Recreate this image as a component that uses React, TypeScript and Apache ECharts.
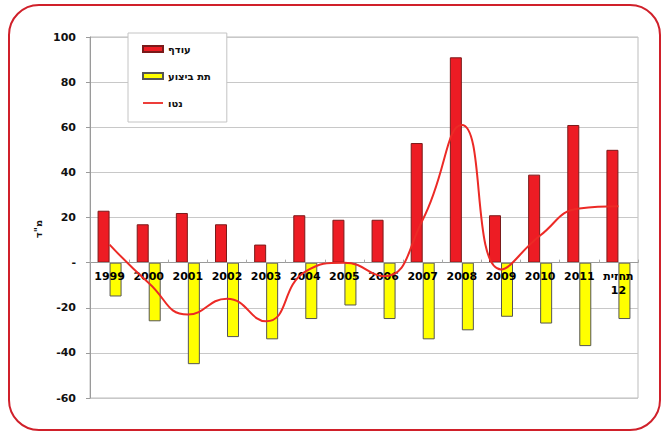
import React, { useEffect, useRef } from "react";
import * as echarts from "echarts";

const categories = ["1999", "2000", "2001", "2002", "2003", "2004", "2005", "2006", "2007", "2008", "2009", "2010", "2011", "תחזית\n12"];
const surplus = [23, 17, 22, 17, 8, 21, 19, 19, 53, 91, 21, 39, 61, 50];
const deficit = [-15, -26, -45, -33, -34, -25, -19, -25, -34, -30, -24, -27, -37, -25];
const net = [8, -9, -23, -16, -26, -4, 0, -6, 19, 61, -3, 12, 24, 25];
const seriesNames = ["עודף", "תת ביצוע", "נטו"];
const yAxisName = "מ\"ד";
const yMin = -60;
const yMax = 100;
const yStep = 20;

export default function App() {
  const ref = useRef<HTMLDivElement>(null);
  useEffect(() => {
    document.body.style.margin = "0";
    const chart = echarts.init(ref.current!, null, { renderer: "svg" });
    const font = "'DejaVu Sans', Arial, sans-serif";
    const gridTop = 37;
    const gridBottom = 34;
    const gridH = 432 - gridTop - gridBottom;
    const zeroOffset = -((0 - yMin) / (yMax - yMin)) * gridH;
    chart.setOption({
      animation: false,
      backgroundColor: "#fff",
      textStyle: { fontFamily: font },
      graphic: [
        {
          type: "rect",
          shape: { x: 9, y: 5, width: 651, height: 425, r: 30 },
          style: { fill: "none", stroke: "#d0202a", lineWidth: 2 },
          z: 100,
        },
        {
          type: "text",
          x: 38,
          y: 229,
          rotation: Math.PI / 2,
          style: {
            text: yAxisName,
            fill: "#111",
            font: "bold 10px " + font,
            align: "center",
            verticalAlign: "middle",
          },
        },
      ],
      grid: { left: 90, right: 26, top: gridTop, bottom: gridBottom, show: true, borderColor: "#bdbdbd", borderWidth: 1 },
      legend: {
        orient: "vertical",
        left: 128,
        top: 33,
        backgroundColor: "#fff",
        borderColor: "#c4c4c4",
        borderWidth: 1,
        padding: [11, 16, 14, 14],
        itemGap: 17,
        itemWidth: 20,
        itemHeight: 6,
        z: 20,
        textStyle: { fontSize: 10, fontWeight: "bold", color: "#111", fontFamily: font },
        data: [
          { name: seriesNames[0], icon: "rect" },
          { name: seriesNames[1], icon: "rect" },
          { name: seriesNames[2], icon: "path://M0,0h22v2H0z" },
        ],
      },
      xAxis: {
        type: "category",
        data: categories,
        offset: zeroOffset,
        z: 10,
        axisLine: { onZero: false, lineStyle: { color: "#9a9a9a" } },
        axisTick: { show: true, inside: true, length: 3, lineStyle: { color: "#aaa" } },
        axisLabel: { color: "#000", fontSize: 11, fontWeight: "bold", margin: 7, interval: 0, lineHeight: 14, fontFamily: font },
        splitLine: { show: false },
      },
      yAxis: {
        type: "value",
        min: yMin,
        max: yMax,
        interval: yStep,
        axisLine: { show: true, lineStyle: { color: "#9a9a9a" } },
        axisTick: { show: true, length: 4, lineStyle: { color: "#9a9a9a" } },
        axisLabel: {
          color: "#111",
          fontSize: 11,
          fontWeight: "bold",
          margin: 14,
          fontFamily: font,
          formatter: (v: number) => (v === 0 ? "-" : String(v)),
        },
        splitLine: { lineStyle: { color: "#c8c8c8", width: 1 } },
      },
      series: [
        {
          name: seriesNames[0],
          type: "bar",
          data: surplus,
          barWidth: 12,
          barGap: "0%",
          itemStyle: { color: "#ed1c24", borderColor: "#7a1a1a", borderWidth: 1 },
        },
        {
          name: seriesNames[1],
          type: "bar",
          data: deficit,
          barWidth: 12,
          barGap: "0%",
          itemStyle: { color: "#ffff00", borderColor: "#555", borderWidth: 1 },
        },
        {
          name: seriesNames[2],
          type: "line",
          data: net,
          smooth: 0.5,
          showSymbol: false,
          symbol: "none",
          lineStyle: { color: "#ec2a26", width: 2 },
          itemStyle: { color: "#ec2a26" },
          z: 12,
        },
      ],
    });
    return () => chart.dispose();
  }, []);
  return <div ref={ref} style={{ width: 664, height: 432 }} />;
}
